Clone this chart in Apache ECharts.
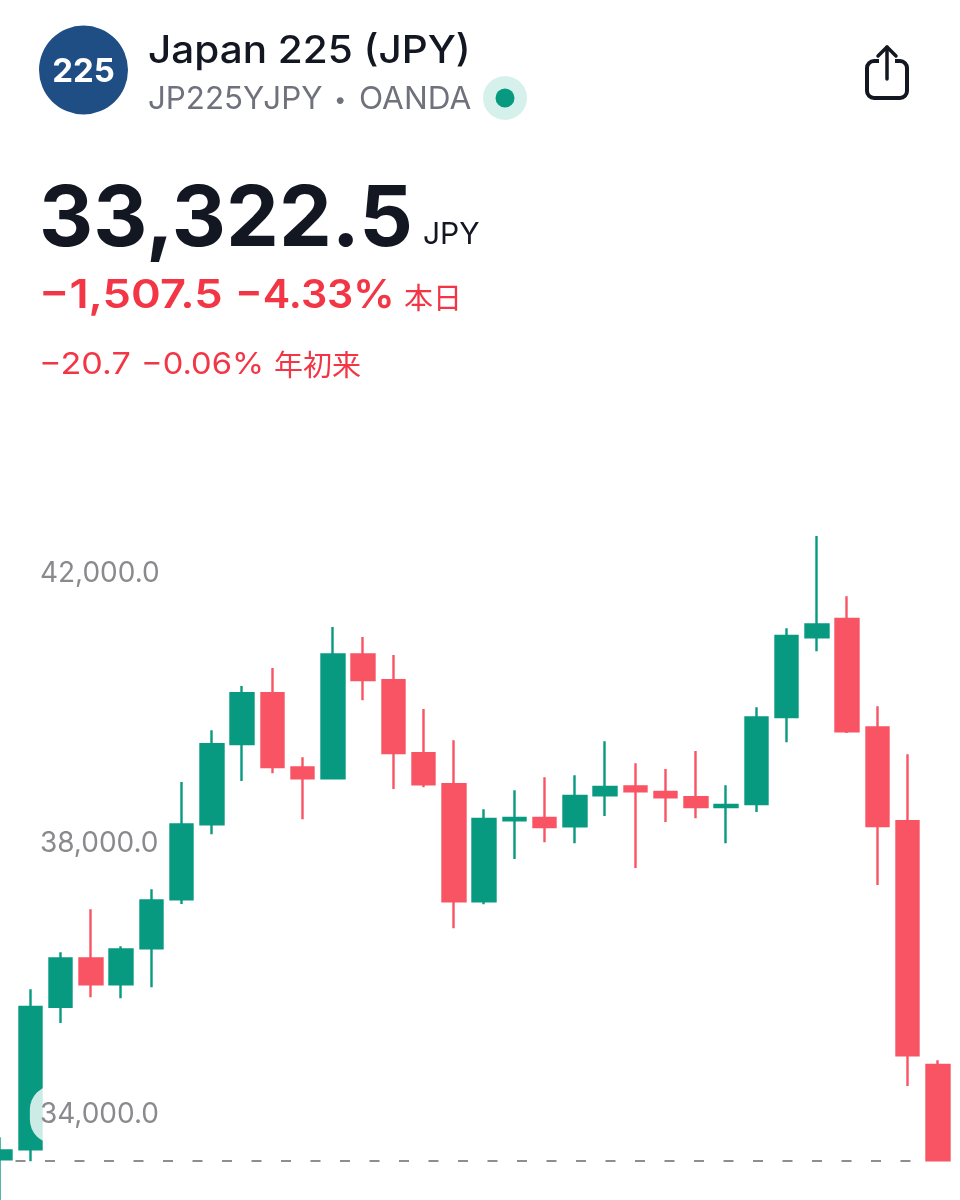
<!DOCTYPE html>
<html>
<head>
<meta charset="utf-8">
<style>html,body{margin:0;padding:0;background:#fff}#c{width:960px;height:1200px}</style>
<script src="https://cdn.jsdelivr.net/npm/echarts@6/dist/echarts.min.js"></script>
</head>
<body>
<div id="c"></div>
<script>
const categories = ['1','2','3','4','5','6','7','8','9','10','11','12','13','14','15','16','17','18','19','20','21','22','23','24','25','26','27','28','29','30','31','32'];
const opens  = [33337,33485,35590,36308,35924,36456,37180,38288,39475,40225,39131,38968,40801,40417,39338,38880,37150,38348,38382,38259,38717,38850,38766,38688,38544,38589,39875,41052,41323,39722,38333,34731];
const closes = [33470,35590,36308,35924,36441,37165,38288,39471,40225,39135,38968,40801,40421,39342,38880,37150,38367,38382,38249,38707,38840,38776,38688,38544,38574,39870,41072,41244,39663,38264,34874,33322.5];
const lows   = [32510,33308,35352,35732,35717,35879,37111,38141,38929,39042,38362,38968,40121,38810,38835,36751,37106,37776,38023,38008,38411,37643,38323,38377,38008,38470,39500,40845,39638,37391,34421,33322.5];
const highs  = [33662,35850,36397,37032,36485,37328,38914,39678,40333,40599,39279,41205,41057,40791,39993,39530,38510,38791,38983,39013,39516,39190,39106,39372,38865,40018,41185,42550,41658,40033,39323,34800];
const yTicks = [34000,38000,42000];
const lastPrice = 33322.5;

const GREEN = '#089A81', RED = '#F95464', TXTRED = '#F23645', GRAY = '#6F727C', INK = '#131722', FONT = 'Inter, "Noto Sans", sans-serif', CJK = '"Noto Sans CJK JP", sans-serif';
const candles = categories.map((_, i) => [opens[i], closes[i], lows[i], highs[i]]);
const txt = (text, x, y, fontSize, fontWeight, fill, sx, fontFamily) => ({
  type: 'text', z: 20, x, y, scaleX: sx || 1,
  style: { text, x: 0, y: 0, fontSize, fontWeight, fill, fontFamily: fontFamily || FONT, verticalAlign: 'middle', align: 'left' }
});
const chart = echarts.init(document.getElementById('c'));
chart.setOption({
  animation: false,
  backgroundColor: '#fff',
  grid: { left: -15.125, top: 437.9, width: 968, height: 811.9, outerBoundsMode: 'none', containLabel: false },
  xAxis: { type: 'category', data: categories, boundaryGap: true, axisLine: { show: false }, axisTick: { show: false }, axisLabel: { show: false }, splitLine: { show: false } },
  yAxis: {
    type: 'value', min: 32000, max: 44000, position: 'left', z: 10,
    axisLine: { show: false }, axisTick: { show: false }, splitLine: { show: false },
    axisLabel: {
      customValues: yTicks, inside: true, margin: 45, align: 'left',
      color: '#8A8A8E', fontFamily: FONT, fontSize: 28,
      backgroundColor: 'rgba(255,255,255,0.8)', padding: [9, 10, 21, 10], borderRadius: 24,
      formatter: v => v.toLocaleString('en-US', { minimumFractionDigits: 1, maximumFractionDigits: 1 })
    }
  },
  series: [{
    type: 'candlestick', data: candles, barWidth: 23,
    itemStyle: { color: GREEN, color0: RED, borderColor: GREEN, borderColor0: RED, borderWidth: 2.4 },
    markLine: {
      silent: true, symbol: 'none', animation: false, label: { show: false }, z: 1,
      lineStyle: { color: '#8E8E92', width: 1.8, type: [10, 19.5], dashOffset: 14 },
      data: [[{ xAxis: 0, yAxis: lastPrice, x: 0 }, { xAxis: 31, yAxis: lastPrice, x: 930 }]]
    }
  }],
  graphic: [
    { type: 'circle', z: 20, shape: { cx: 83.5, cy: 70, r: 44.5 }, style: { fill: '#1F4E85' } },
    { type: 'text', z: 21, style: { text: '225', x: 83.5, y: 72, fontSize: 33, fontWeight: 700, fill: '#fff', fontFamily: FONT, align: 'center', verticalAlign: 'middle' } },
    txt('Japan 225 (JPY)', 148, 52, 38, 500, INK, 1.065),
    txt('JP225YJPY', 148, 100, 31, 400, GRAY, 1.01),
    txt('•', 334, 100, 22, 400, GRAY),
    txt('OANDA', 359, 100, 31, 400, GRAY, 1.02),
    { type: 'circle', z: 20, shape: { cx: 505, cy: 98, r: 22 }, style: { fill: '#D6F1EB' } },
    { type: 'circle', z: 21, shape: { cx: 505, cy: 98, r: 9.5 }, style: { fill: GREEN } },
    { type: 'rect', z: 20, shape: { x: 867, y: 61, width: 40, height: 37, r: 7 }, style: { fill: 'none', stroke: INK, lineWidth: 4 } },
    { type: 'rect', z: 21, shape: { x: 879, y: 57, width: 16, height: 8 }, style: { fill: '#fff' } },
    { type: 'line', z: 22, shape: { x1: 887, y1: 47, x2: 887, y2: 79 }, style: { stroke: INK, lineWidth: 3.5, lineCap: 'round' } },
    { type: 'polyline', z: 22, shape: { points: [[878, 56], [887, 47], [896, 56]] }, style: { fill: 'none', stroke: INK, lineWidth: 3.5, lineCap: 'round', lineJoin: 'round' } },
    txt('33,322.5', 39, 221, 84, 700, INK),
    txt('JPY', 423, 235, 30, 400, INK),
    txt('−1,507.5', 39, 296, 40, 600, TXTRED, 1.13),
    txt('−4.33%', 235, 296, 40, 600, TXTRED, 1.03),
    txt('本日', 404, 298, 29, 400, TXTRED, 1, CJK),
    txt('−20.7', 39, 365, 30, 400, TXTRED, 1.14),
    txt('−0.06%', 141, 365, 30, 400, TXTRED, 1.09),
    txt('年初来', 274, 365, 29, 400, TXTRED, 1, CJK)
  ]
});
</script>
</body>
</html>
